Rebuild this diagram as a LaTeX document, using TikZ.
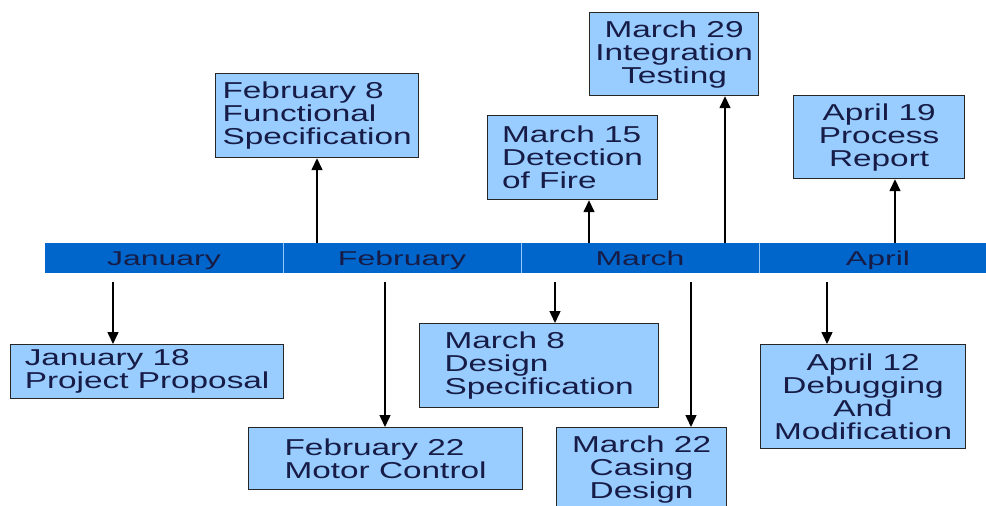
\documentclass[tikz,border=0pt]{standalone}
\usepackage{fontspec}
\setmainfont{Liberation Sans}
\newfontfamily\eventfont[FakeStretch=1.45]{Liberation Sans}
\newfontfamily\monthfont[FakeStretch=1.6]{Liberation Sans}
\usetikzlibrary{arrows.meta,positioning}
\definecolor{barblue}{RGB}{0,102,204}
\definecolor{boxblue}{RGB}{153,204,255}
\definecolor{inkblue}{RGB}{22,28,70}
\definecolor{sepblue}{RGB}{150,200,250}
\tikzset{
event/.style = {draw=black!85, fill=boxblue, rectangle, line width=1.2pt, inner sep=0pt, anchor=north west, text=inkblue, font=\eventfont\fontsize{23}{23}\selectfont},
month/.style = {fill=barblue, rectangle, inner sep=0pt, outer sep=0pt, minimum width=238pt, minimum height=30pt, text height=15pt, text depth=0pt, text=inkblue, font=\monthfont\fontsize{20}{20}\selectfont},
link/.style = {->, line width=1.5pt},
sep/.style = {draw=sepblue, line width=1pt},
}

\begin{document}
\begin{tikzpicture}[auto, x=1pt, y=-1pt, >={Triangle[length=12pt,width=11pt]}]
      \useasboundingbox (0,0) rectangle (986,506);
      \clip (0,0) rectangle (986,506);
      % the time line
      \node [month, anchor=north west] (jan) at (45,243) {January};
      \node [month, right=0pt of jan] (feb) {February};
      \node [month, right=0pt of feb] (mar) {March};
      \node [month, right=0pt of mar] (apr) {April};
      \draw [sep] (feb.north west) -- (feb.south west);
      \draw [sep] (mar.north west) -- (mar.south west);
      \draw [sep] (apr.north west) -- (apr.south west);
      % events above
      \node [event, minimum width=203pt, minimum height=84pt, align=left] (feb8) at (215,73)
         {February 8\\Functional\\Specification};
      \node [event, minimum width=170pt, minimum height=84pt, align=left] (mar15) at (487,115)
         {March 15\\Detection\\of Fire};
      \node [event, minimum width=169pt, minimum height=83pt, align=center] (mar29) at (589,12)
         {March 29\\Integration\\Testing};
      \node [event, minimum width=171pt, minimum height=83pt, align=center] (apr19) at (793,95)
         {April 19\\Process\\Report};
      % events below
      \node [event, minimum width=273pt, minimum height=54pt, align=left] (jan18) at (10,344)
         {January 18\\Project Proposal};
      \node [event, minimum width=274pt, minimum height=62pt, align=left] (feb22) at (248,427)
         {February 22\\Motor Control};
      \node [event, minimum width=239pt, minimum height=84pt, align=left] (mar8) at (419,323)
         {March 8\\Design\\Specification};
      \node [event, minimum width=170pt, minimum height=84pt, align=center] (mar22) at (556,427)
         {March 22\\Casing\\Design};
      \node [event, minimum width=205pt, minimum height=104pt, align=center] (apr12) at (760,344)
         {April 12\\Debugging\\And\\Modification};
      % arrow feet on the time line
      \coordinate (feb8foot) at (317,243);
      \coordinate (mar15foot) at (589,243);
      \coordinate (mar29foot) at (725,243);
      \coordinate (apr19foot) at (895,243);
      \coordinate (jan18foot) at (113,282);
      \coordinate (feb22foot) at (385,282);
      \coordinate (mar8foot) at (555,282);
      \coordinate (mar22foot) at (691,282);
      \coordinate (apr12foot) at (827,282);
      \draw [link] (feb8foot) -- (feb8foot |- feb8.south);
      \draw [link] (mar15foot) -- (mar15foot |- mar15.south);
      \draw [link] (mar29foot) -- (mar29foot |- mar29.south);
      \draw [link] (apr19foot) -- (apr19foot |- apr19.south);
      \draw [link] (jan18foot) -- (jan18foot |- jan18.north);
      \draw [link] (feb22foot) -- (feb22foot |- feb22.north);
      \draw [link] (mar8foot) -- (mar8foot |- mar8.north);
      \draw [link] (mar22foot) -- (mar22foot |- mar22.north);
      \draw [link] (apr12foot) -- (apr12foot |- apr12.north);
\end{tikzpicture}
\end{document}
